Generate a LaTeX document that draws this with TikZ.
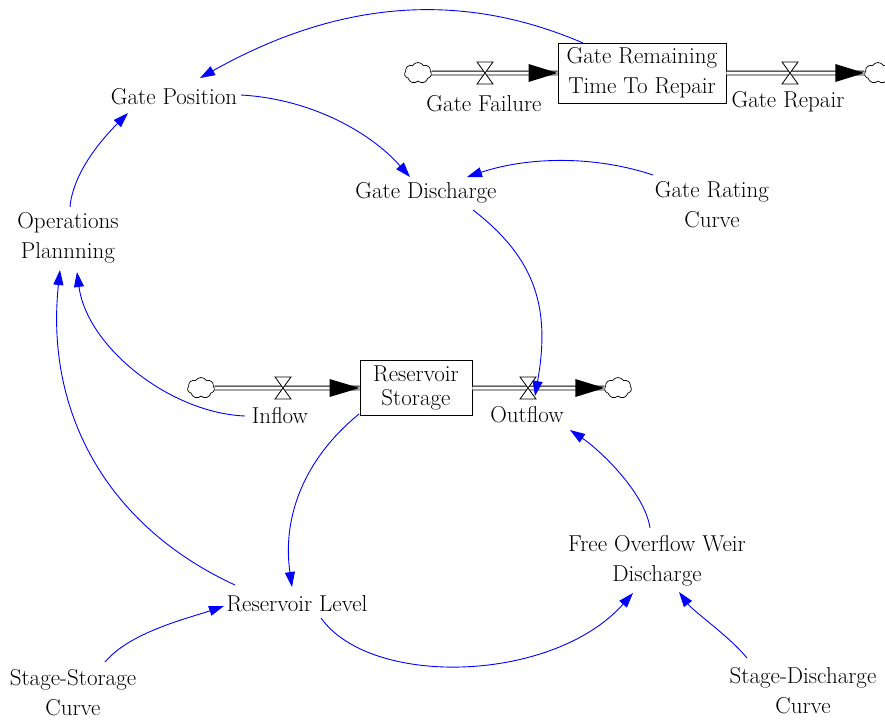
\documentclass[tikz,border=0pt]{standalone}
\usepackage{fontspec}
\usetikzlibrary{arrows.meta,shapes.symbols}
\begin{document}
\begin{tikzpicture}[x=1pt,y=-1pt,
  lbl/.style={align=center,inner sep=1pt,font=\fontsize{23}{30}\selectfont},
  stockbox/.style={draw,line width=0.9pt,align=center,inner sep=0pt},
  link/.style={draw=blue,line width=0.9pt,-{Triangle[length=15pt,width=10pt]}},
  pipe/.style={draw=black,double=white,double distance=3pt,line width=0.9pt},
  source/.style={cloud,cloud puffs=7,cloud puff arc=120,aspect=1.35,draw,
    line width=0.7pt,fill=white,inner sep=0pt,minimum width=27pt,minimum height=21pt},
  valve/.pic={\draw[line width=0.8pt,fill=white]
      (-8,-11) -- (8,-11) -- (0,0) -- cycle (-8,11) -- (8,11) -- (0,0) -- cycle;}
]
\useasboundingbox[fill=white] (0,0) rectangle (885,720);

% ---- stocks ----
\node[stockbox,minimum width=168pt,minimum height=60pt,
      font=\fontsize{23}{30}\selectfont] (gtr) at (642,73)
      {Gate Remaining\\Time To Repair};
\node[stockbox,minimum width=112pt,minimum height=55pt,
      font=\fontsize{23}{24}\selectfont] (rs) at (416,388)
      {Reservoir\\Storage};

% ---- clouds ----
\node[source] (c1) at (418,73) {};
\node[source] (c2) at (878,73) {};
\node[source] (c3) at (201,388) {};
\node[source] (c4) at (618,388) {};

% ---- flow pipes ----
\draw[pipe] (c1.east) -- (gtr.west);
\fill (gtr.west) -- ++(-29,-9) -- ++(0,18) -- cycle;
\draw[pipe] (gtr.east) -- (c2.west);
\fill (c2.west) -- ++(-29,-9) -- ++(0,18) -- cycle;
\draw[pipe] (c3.east) -- (rs.west);
\fill (rs.west) -- ++(-30,-9) -- ++(0,18) -- cycle;
\draw[pipe] (rs.east) -- (c4.west);
\fill (c4.west) -- ++(-29,-9) -- ++(0,18) -- cycle;

% ---- valves ----
\coordinate (v1) at (485,73);
\coordinate (v2) at (790,73);
\coordinate (v3) at (283,388);
\coordinate (v4) at (528,388);
\pic at (v1) {valve};
\pic at (v2) {valve};
\pic at (v3) {valve};
\pic at (v4) {valve};

% ---- flow names ----
\node[lbl] (gfail) at (484,104) {Gate Failure};
\node[lbl] (grep) at (788,102) {Gate Repair};
\node[lbl] (inflow) at (280,416) {Inflow};
\node[lbl] (outflow) at (527,415) {Outflow};

% ---- auxiliaries ----
\node[lbl] (gp) at (174,97) {Gate Position};
\node[lbl] (gd) at (426,193) {Gate Discharge};
\node[lbl] (grc) at (712,205) {Gate Rating\\Curve};
\node[lbl] (op) at (68,238) {Operations\\Plannning};
\node[lbl] (rl) at (297,604) {Reservoir Level};
\node[lbl] (fow) at (657,561) {Free Overflow Weir\\Discharge};
\node[lbl] (ssc) at (73,693) {Stage-Storage\\Curve};
\node[lbl] (sdc) at (803,691) {Stage-Discharge\\Curve};

% ---- causal links ----
\draw[link] ([shift={(-59,-30)}]gtr.center) .. controls +(-130,-56) and +(130,-73) .. ([shift={(26,-19)}]gp.center);
\draw[link] ([shift={(67,-2)}]gp.center) .. controls +(70,4) and +(-40,-45) .. ([shift={(-16,-16)}]gd.center);
\draw[link] ([shift={(-59,-30)}]grc.center) .. controls +(-60,-20) and +(60,-20) .. ([shift={(41,-16)}]gd.center);
\draw[link] ([shift={(47,17)}]gd.center) .. controls +(65,50) and +(15,-85) .. ([shift={(7,8)}]v4);
\draw[link] ([shift={(2,-31)}]op.center) .. controls +(3,-35) and +(-25,25) .. ([shift={(-46,16)}]gp.center);
\draw[link] ([shift={(-35,0)}]inflow.center) .. controls +(-75,-3) and +(10,75) .. ([shift={(9,34)}]op.center);
\draw[link] ([shift={(-62,-19)}]rl.center) .. controls +(-130,-60) and +(-15,140) .. ([shift={(-8,32)}]op.center);
\draw[link] ([shift={(-57,26)}]rs.center) .. controls +(-55,45) and +(-10,-70) .. ([shift={(-5,-17)}]rl.center);
\draw[link] ([shift={(32,-31)}]ssc.center) .. controls +(25,-30) and +(-35,12) .. ([shift={(-73,2)}]rl.center);
\draw[link] ([shift={(24,14)}]rl.center) .. controls +(50,70) and +(-80,90) .. ([shift={(-24,32)}]fow.center);
\draw[link] ([shift={(-7,-33)}]fow.center) .. controls +(-5,-35) and +(30,20) .. ([shift={(43,15)}]outflow.center);
\draw[link] ([shift={(-56,-33)}]sdc.center) .. controls +(-18,-22) and +(15,20) .. ([shift={(22,31)}]fow.center);
\end{tikzpicture}
\end{document}
